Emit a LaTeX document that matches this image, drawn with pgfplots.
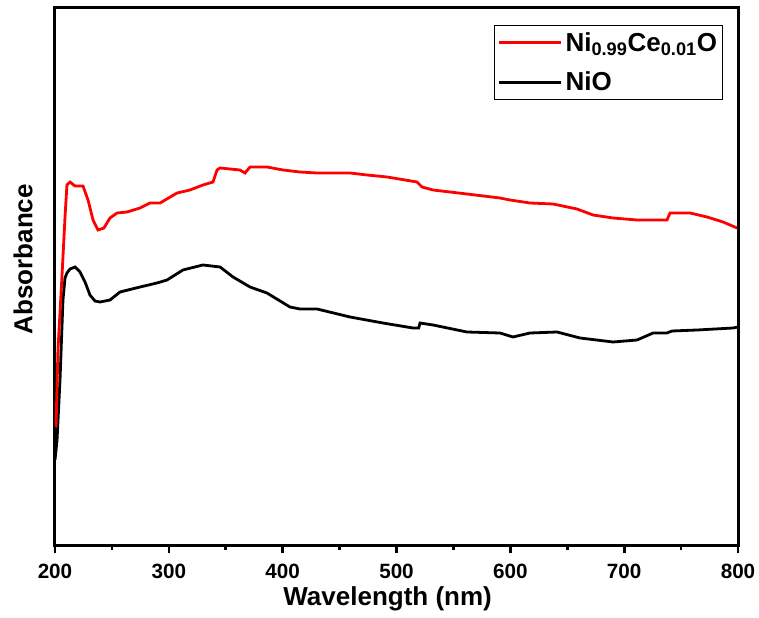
\documentclass[border=0pt]{standalone}
\usepackage{pgfplots}
\pgfplotsset{compat=1.18}
\usepackage{fontspec}
\setmainfont{Liberation Sans}
\pgfplotstableread{
x y
200 85
201.8 105
204.4 165
207.0 245
208.8 267
210.5 272
213.2 276
217.6 278
222.0 273
226.4 263
230.7 250
235.1 244
239.5 243
248.3 245
257.1 253
274.7 258
289.6 262
298.4 265
312.4 275
330.0 280
345.0 278
356.4 268
371.3 258
386.2 252
406.4 238
415.2 236
430.2 236
459.2 228
488.1 222
514.5 217
519.5 217
520.7 222
532.1 220
561.9 213
590.9 212
602.3 208
617.3 212
641.0 213
661.2 207
690.2 203
711.3 205
725.4 212
737.6 212
742.0 214
764.0 215
795.6 217
800 218
}\nio
\pgfplotstableread{
x y
200.9 118
202.6 195
206.1 268
208.8 328
210.5 360
213.2 363
217.6 359
224.6 359
229.0 345
233.4 325
237.8 315
243.0 317
248.3 327
254.5 332
263.3 333
274.7 337
283.5 342
292.3 342
307.2 352
318.6 355
330.0 360
338.8 363
342.3 375
345.0 377
362.5 375
366.9 372
371.3 378
386.2 378
400.3 375
415.2 373
430.2 372
459.2 372
474.1 370
491.7 368
518.0 363
522.4 358
532.1 355
561.9 351
590.9 347
599.7 345
617.3 342
637.5 341
658.6 336
672.6 330
690.2 327
711.3 325
737.6 325
740.3 332
757.9 332
772.8 328
786.9 323
799.2 317
}\nice
\begin{document}
\begin{tikzpicture}
\begin{axis}[
  name=ax,
  scale only axis, width=512.25pt, height=402.75pt,
  xmin=200, xmax=800, ymin=0, ymax=537,
  axis line style={line width=2.25pt},
  xtick={200,300,...,800}, minor xtick={250,350,...,750},
  ytick=\empty,
  tick align=outside, xtick pos=left,
  major tick length=6pt, minor tick length=3.5pt,
  every tick/.style={black, line width=2pt},
  /pgf/number format/assume math mode=true,
  xticklabel style={font=\fontsize{15.5}{18}\selectfont\bfseries, yshift=-4.5pt},
  xlabel={Wavelength (nm)}, ylabel={Absorbance},
  label style={font=\fontsize{19.5}{22}\selectfont\bfseries},
  xlabel style={at={([yshift=-45pt]rel axis cs:0.487,0)}, anchor=base},
  ylabel style={at={([xshift=-24pt]rel axis cs:0,0.532)}, anchor=center},
  reverse legend,
  legend cell align=left,
  legend image code/.code={\draw[#1, line width=2.25pt] (0pt,0pt) -- (47pt,0pt);},
  legend style={at={(0.978,0.968)}, anchor=north east, draw=black, line width=0.75pt,
    font=\fontsize{19.5}{21}\selectfont\bfseries, row sep=10pt, inner xsep=2pt, inner ysep=3pt},
]
\addplot[black, line width=2.1pt] table[x=x,y=y] {\nio};
\addlegendentry{NiO}
\addplot[red, line width=2.1pt] table[x=x,y=y] {\nice};
\addlegendentry{Ni\textsubscript{0.99}Ce\textsubscript{0.01}O}
\end{axis}
\pgfresetboundingbox
\path ([shift={(-41.25pt,-54pt)}]ax.south west) rectangle ([shift={(15.75pt,6pt)}]ax.north east);
\end{tikzpicture}
\end{document}
